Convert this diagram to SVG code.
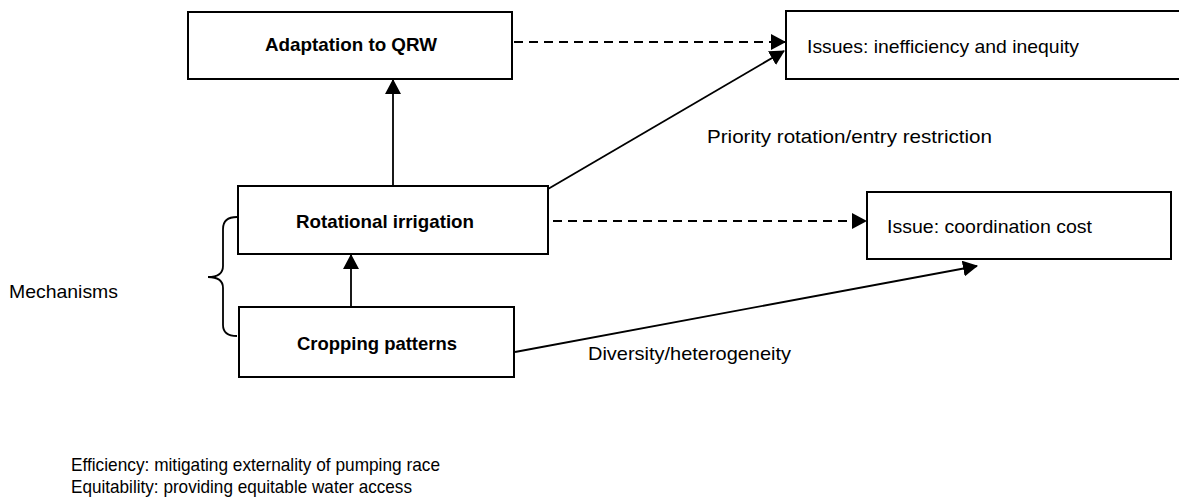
<svg xmlns="http://www.w3.org/2000/svg" width="1179" height="500" viewBox="0 0 1179 500">
  <style>
    .box { fill: #ffffff; stroke: #000000; stroke-width: 2; }
    .lbl { font-family: "Liberation Sans", Arial, sans-serif; font-size: 18.5px; fill: #000000; }
    .bold { font-weight: bold; }
    .conn { fill: none; stroke: #000000; stroke-width: 1.8; }
    .dash { stroke-dasharray: 9 6; }
  </style>
  <defs>
    <marker id="arrow" markerUnits="userSpaceOnUse" markerWidth="15" markerHeight="16" refX="14" refY="8" orient="auto">
      <path d="M0,0 L15,8 L0,16 z" fill="#000000"/>
    </marker>
  </defs>
  <rect width="1179" height="500" fill="#ffffff"/>

  <g id="node-adaptation">
    <rect class="box" x="188" y="12" width="324" height="67"/>
    <text class="lbl bold" x="265" y="51" textLength="172" lengthAdjust="spacingAndGlyphs">Adaptation to QRW</text>
  </g>
  <g id="node-issues-inefficiency">
    <rect class="box" x="786" y="11" width="405" height="68"/>
    <text class="lbl" x="807" y="53" textLength="272" lengthAdjust="spacingAndGlyphs">Issues: inefficiency and inequity</text>
  </g>
  <g id="node-rotational">
    <rect class="box" x="238" y="186" width="310" height="68"/>
    <text class="lbl bold" x="296" y="228" textLength="178" lengthAdjust="spacingAndGlyphs">Rotational irrigation</text>
  </g>
  <g id="node-issue-coordination">
    <rect class="box" x="867" y="192" width="304" height="67"/>
    <text class="lbl" x="887" y="233" textLength="205" lengthAdjust="spacingAndGlyphs">Issue: coordination cost</text>
  </g>
  <g id="node-cropping">
    <rect class="box" x="239" y="307" width="275" height="70"/>
    <text class="lbl bold" x="297" y="350" textLength="160" lengthAdjust="spacingAndGlyphs">Cropping patterns</text>
  </g>

  <g id="mechanisms">
    <path class="conn" d="M237,217 Q223,217 223,229 L223,266 Q223,277 208,277 Q223,277 223,288 L223,325 Q223,336 237,336"/>
    <text class="lbl" x="9" y="298" textLength="109" lengthAdjust="spacingAndGlyphs">Mechanisms</text>
  </g>

  <g id="connectors">
    <line class="conn" x1="393" y1="186" x2="393" y2="80" marker-end="url(#arrow)"/>
    <line class="conn" x1="351" y1="307" x2="351" y2="255" marker-end="url(#arrow)"/>
    <line class="conn dash" x1="514" y1="42" x2="785" y2="42" marker-end="url(#arrow)"/>
    <line class="conn" x1="548" y1="189" x2="784" y2="51" marker-end="url(#arrow)"/>
    <line class="conn dash" x1="553" y1="221" x2="866" y2="221" marker-end="url(#arrow)"/>
    <line class="conn" x1="515" y1="352" x2="977" y2="266" marker-end="url(#arrow)"/>
    <text class="lbl" x="707" y="143" textLength="285" lengthAdjust="spacingAndGlyphs">Priority rotation/entry restriction</text>
    <text class="lbl" x="588" y="360" textLength="203" lengthAdjust="spacingAndGlyphs">Diversity/heterogeneity</text>
  </g>

  <g id="notes">
    <text class="lbl" x="71" y="471" textLength="369" lengthAdjust="spacingAndGlyphs">Efficiency: mitigating externality of pumping race</text>
    <text class="lbl" x="71" y="493" textLength="341" lengthAdjust="spacingAndGlyphs">Equitability: providing equitable water access</text>
  </g>
</svg>
